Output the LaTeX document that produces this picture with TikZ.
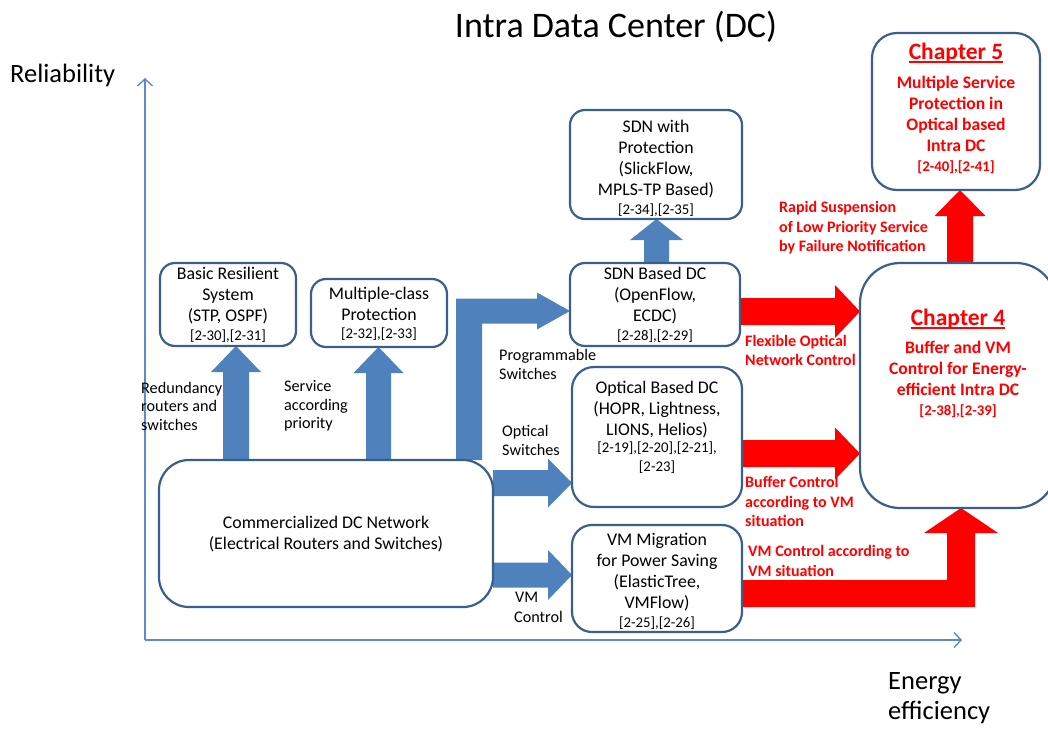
\documentclass[tikz,border=0pt]{standalone}
\usepackage{fontspec}
\setmainfont{Carlito}
\usetikzlibrary{calc,backgrounds,arrows.meta}

\definecolor{boxline}{HTML}{3A5F8B}
\definecolor{bluefill}{HTML}{4F81BD}
\definecolor{axisblue}{HTML}{5B8BC9}
\definecolor{redfill}{HTML}{FF0000}

\tikzset{
  box/.style={draw=boxline, line width=2.2pt, fill=white, rounded corners=15pt,
    inner sep=0pt, outer sep=0pt},
  boxtxt/.style={align=center, font=\fontsize{17.8}{21}\selectfont, inner sep=0pt},
  chtxt/.style={align=center, font=\bfseries\fontsize{17.6}{21}\selectfont,
    text=redfill, inner sep=0pt},
  lbl/.style={align=left, font=\fontsize{16.2}{18.5}\selectfont, inner sep=0pt, anchor=west},
  redlbl/.style={align=left, font=\bfseries\fontsize{16}{19.5}\selectfont,
    text=redfill, inner sep=0pt, anchor=west},
  blk/.style={fill=bluefill},
  redblk/.style={fill=redfill},
  axis/.style={draw=axisblue, line width=1.4pt, -{Straight Barb[length=7pt,width=15pt]}},
}
\newcommand\refs{\fontsize{14.8}{16}\selectfont}
% chapter heading with a firm underline in the text colour
\newsavebox\chbox
\newcommand\chead[1]{\sbox\chbox{\fontsize{23.5}{24}\selectfont #1}%
  \usebox\chbox\llap{\rule[-3pt]{\wd\chbox}{1.4pt}}}

% vertical block arrow: style, centre x, half shaft, half head, head length, tail, tip
\newcommand\upblock[7]{%
  \fill[#1] let \p1=(#6), \p2=(#7) in
    ({#2pt-#3pt},\y1) -- ({#2pt-#3pt},{\y2-#5pt}) -- ({#2pt-#4pt},{\y2-#5pt})
    -- ({#2pt},\y2) -- ({#2pt+#4pt},{\y2-#5pt}) -- ({#2pt+#3pt},{\y2-#5pt})
    -- ({#2pt+#3pt},\y1) -- cycle;}
% horizontal block arrow: style, centre y, half shaft, half head, head length, tail, tip
\newcommand\rightblock[7]{%
  \fill[#1] let \p1=(#6), \p2=(#7) in
    (\x1,{#2pt+#3pt}) -- ({\x2-#5pt},{#2pt+#3pt}) -- ({\x2-#5pt},{#2pt+#4pt})
    -- (\x2,{#2pt}) -- ({\x2-#5pt},{#2pt-#4pt}) -- ({\x2-#5pt},{#2pt-#3pt})
    -- (\x1,{#2pt-#3pt}) -- cycle;}

\begin{document}
\begin{tikzpicture}[x=1pt,y=1pt]
\useasboundingbox (0,0) rectangle (1048,-728);
\clip (0,0) rectangle (1048,-728);

% headings and axis names
\node[inner sep=0pt, font=\fontsize{36}{40}\selectfont] (title) at (616,-27) {Intra Data Center (DC)};
\node[inner sep=0pt, anchor=west, font=\fontsize{26.5}{30}\selectfont] (rel) at (10,-75) {Reliability};
\node[inner sep=0pt, anchor=west, align=left, font=\fontsize{26.5}{30}\selectfont] (eff) at (888,-698) {Energy\\efficiency};

% boxes
\node[box, minimum width=136pt, minimum height=83pt] (basic) at (228,-304.5) {};
\node[box, minimum width=136pt, minimum height=68pt] (multi) at (379,-313) {};
\node[box, rounded corners=30pt, minimum width=334pt, minimum height=147pt] (comm) at (326,-533.5) {};
\node[box, minimum width=172pt, minimum height=109pt] (sdnprot) at (656,-164.5) {};
\node[box, minimum width=170pt, minimum height=83pt] (sdn) at (655,-304.5) {};
\node[box, rounded corners=22pt, minimum width=170pt, minimum height=140pt] (optical) at (657,-437) {};
\node[box, rounded corners=20pt, minimum width=170pt, minimum height=107pt] (vm) at (657,-578.5) {};
\node[box, rounded corners=25pt, minimum width=168pt, minimum height=157pt] (ch5) at (956,-111.5) {};
\node[box, rounded corners=40pt, minimum width=196pt, minimum height=245pt] (ch4) at (958,-385.5) {};

% box texts
\node[boxtxt] (basict) at (228,-305) {Basic Resilient\\System\\(STP, OSPF)\\[-2pt]{\refs [2-30],[2-31]}};
\node[boxtxt] (multit) at (379,-314) {Multiple-class\\Protection\\[-3pt]{\refs [2-32],[2-33]}};
\node[boxtxt] (commt) at (326,-534) {Commercialized DC Network\\(Electrical Routers and Switches)};
\node[boxtxt] (sdnprott) at (656,-168) {SDN with\\Protection\\(SlickFlow,\\MPLS-TP Based)\\[-2pt]{\refs [2-34],[2-35]}};
\node[boxtxt] (sdnt) at (655,-305) {SDN Based DC\\(OpenFlow,\\ECDC)\\[-2pt]{\refs [2-28],[2-29]}};
\node[boxtxt] (opticalt) at (657,-427.5) {Optical Based DC\\(HOPR, Lightness,\\LIONS, Helios)\\[-4pt]{\refs [2-19],[2-20],[2-21],}\\[-2pt]{\refs [2-23]}};
\node[boxtxt] (vmt) at (657,-581) {VM Migration\\for Power Saving\\(ElasticTree,\\VMFlow)\\[-2pt]{\refs [2-25],[2-26]}};
\node[chtxt] (ch5t) at (956,-108.5) {\chead{Chapter 5}\\[8pt]Multiple Service\\Protection in\\Optical based\\Intra DC\\[-1pt]{\refs [2-40],[2-41]}};
\node[chtxt] (ch4t) at (958,-363.5) {\chead{Chapter 4}\\[7pt]Buffer and VM\\Control for Energy-\\efficient Intra DC\\[-1pt]{\refs [2-38],[2-39]}};

% connector labels
\node[lbl] (l1) at (141,-406) {Redundancy\\routers and\\switches};
\node[lbl] (l2) at (284,-406) {Service\\according\\priority};
\node[lbl, font=\fontsize{16.2}{19}\selectfont] (l3) at (499,-364.5) {Programmable\\Switches};
\node[lbl, font=\fontsize{16.2}{19}\selectfont] (l4) at (502,-440.5) {Optical\\Switches};
\node[lbl, font=\fontsize{16.2}{20}\selectfont] (l5) at (514,-607) {\hspace{1pt}VM\\Control};
\node[redlbl] (r1) at (779,-228) {Rapid Suspension\\of Low Priority Service\\by Failure Notification};
\node[redlbl] (r2) at (745,-350.5) {Flexible Optical\\Network Control};
\node[redlbl] (r3) at (745,-501.5) {Buffer Control\\according to VM\\situation};
\node[redlbl, font=\bfseries\fontsize{16}{20}\selectfont] (r4) at (748,-561) {VM Control according to\\VM situation};

\begin{scope}[on background layer]
  % axes
  \coordinate (origin) at (145,-640);
  \coordinate (ytop) at (145,-78);
  \coordinate (xend) at (962,-640);
  \draw[axis] (origin) -- (ytop);
  \draw[axis] (origin) -- (xend);

  % blue block arrows
  \upblock{blk}{236}{13}{25}{26}{comm.north}{basic.south}
  \upblock{blk}{378.5}{12.5}{25}{26}{comm.north}{multi.south}
  \upblock{blk}{656.5}{12.5}{26.5}{21}{sdn.north}{sdnprot.south}
  \fill[blk] let \p1=(comm.north), \p2=(sdn.west) in
    (456,\y1) -- (456,-298.5) -- ({\x2-33pt},-298.5) -- ({\x2-33pt},-292.5)
    -- (\x2,-311) -- ({\x2-33pt},-329.5) -- ({\x2-33pt},-323.5)
    -- (482,-323.5) -- (482,\y1) -- cycle;
  \rightblock{blk}{-483}{13}{24.5}{24}{comm.east}{optical.west}
  \rightblock{blk}{-575}{12.5}{25}{24}{comm.east}{vm.west}

  % red block arrows
  \rightblock{redblk}{-311.5}{13.5}{26.5}{25}{sdn.east}{ch4.west}
  \rightblock{redblk}{-453.5}{13.5}{26}{25}{optical.east}{ch4.west}
  \fill[redblk] let \p1=(vm.east), \p2=(ch4.south) in
    (\x1,-580) -- (947,-580) -- (947,-533) -- (924,-533) -- (961,\y2)
    -- (998,-533) -- (975,-533) -- (975,-607) -- (\x1,-607) -- cycle;
  \upblock{redblk}{960}{13}{25.5}{26}{ch4.north}{ch5.south}
\end{scope}
\end{tikzpicture}
\end{document}
